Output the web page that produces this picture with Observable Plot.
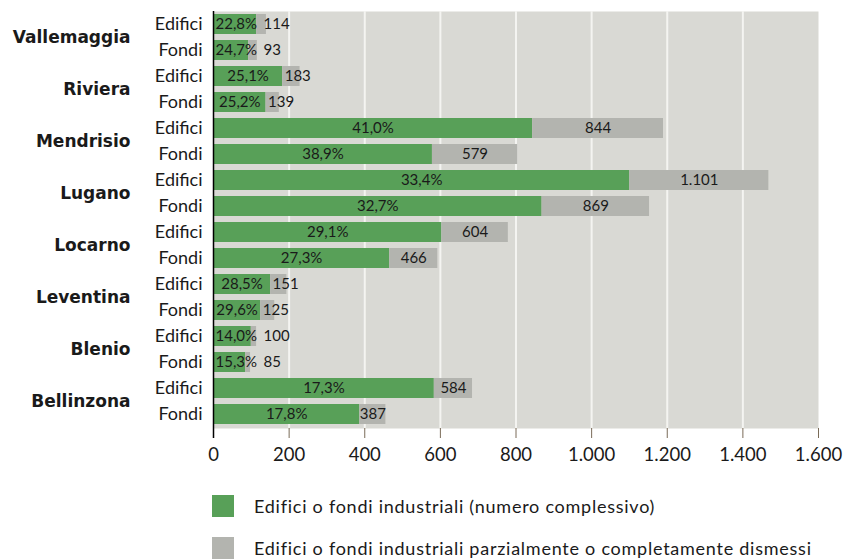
<!DOCTYPE html>
<html>
<head>
<meta charset="utf-8">
<script src="https://cdn.jsdelivr.net/npm/d3@7"></script>
<script src="https://cdn.jsdelivr.net/npm/@observablehq/plot@0.6"></script>
<style>
  html, body { margin: 0; padding: 0; background: #ffffff; }
  body { width: 843px; height: 559px; overflow: hidden; font-family: Lato, "Noto Sans", sans-serif; color: #1a1a1a; }
  #legend { padding-top: 15px; }
  .item { display: flex; align-items: center; height: 22px; margin-bottom: 20px; margin-left: 212px; font-size: 18px; letter-spacing: 0.75px; }
  .sw { width: 22px; height: 22px; margin-right: 20px; flex: none; }
</style>
</head>
<body>
<div id="chart"></div>
<div id="legend"></div>
<script>
// Regions, top to bottom
const regions = ["Vallemaggia", "Riviera", "Mendrisio", "Lugano", "Locarno", "Leventina", "Blenio", "Bellinzona"];
// Industrial buildings: total count and share (%) partially or fully disused
const edificiTotal = [114, 183, 844, 1101, 604, 151, 100, 584];
const edificiPct   = [22.8, 25.1, 41.0, 33.4, 29.1, 28.5, 14.0, 17.3];
// Industrial plots: total count and share (%) partially or fully disused
const fondiTotal = [93, 139, 579, 869, 466, 125, 85, 387];
const fondiPct   = [24.7, 25.2, 38.9, 32.7, 27.3, 29.6, 15.3, 17.8];
const kinds = ["Edifici", "Fondi"];
const xTicks = [0, 200, 400, 600, 800, 1000, 1200, 1400, 1600];
const legendLabels = [
  "Edifici o fondi industriali (numero complessivo)",
  "Edifici o fondi industriali parzialmente o completamente dismessi"
];

const green = "#58a058";
const grey = "#b3b4af";
const panel = "#d9d9d4";

const W = 843, H = 480, mL = 213, mR = 25, mT = 11, mB = 52;
const pxPerUnit = (W - mL - mR) / 1600;

const it = d3.formatLocale({decimal: ",", thousands: ".", grouping: [3], currency: ["", "€"]});
const fmtInt = it.format(",d");
const fmtPct = p => it.format(".1f")(p) + "%";

const rows = [];
regions.forEach((r, i) => {
  [[edificiTotal[i], edificiPct[i]], [fondiTotal[i], fondiPct[i]]].forEach(([total, pct], j) => {
    const dismessi = total * pct / 100;
    rows.push({
      region: r, kind: kinds[j], key: r + "|" + kinds[j],
      total, pct, dismessi,
      pctInside: total * pxPerUnit > 45,
      numInside: dismessi * pxPerUnit > 24
    });
  });
});

const textBase = {y: "key", fontSize: 15, fill: "#1a1a1a", fontFamily: "Lato, sans-serif"};

const chart = Plot.plot({
  width: W, height: H,
  marginLeft: mL, marginRight: mR, marginTop: mT, marginBottom: mB,
  style: {fontFamily: "Lato, sans-serif", background: "white", color: "#1a1a1a"},
  x: {domain: [0, 1600], label: null},
  y: {domain: rows.map(d => d.key), paddingInner: 0.23, paddingOuter: 0.115, label: null},
  marks: [
    Plot.frame({fill: panel, stroke: null}),
    Plot.gridX(xTicks.slice(1, -1), {stroke: "#f4f4f1", strokeOpacity: 1, strokeWidth: 2}),
    Plot.barX(rows, {x1: 0, x2: "total", y: "key", fill: green}),
    Plot.barX(rows, {x1: "total", x2: d => d.total + d.dismessi, y: "key", fill: grey}),
    // percentage labels
    Plot.text(rows.filter(d => d.pctInside), {...textBase, x: d => d.total / 2, text: d => fmtPct(d.pct)}),
    Plot.text(rows.filter(d => !d.pctInside), {...textBase, x: 0, text: d => fmtPct(d.pct), textAnchor: "start", dx: 2}),
    // total count labels
    Plot.text(rows.filter(d => d.numInside), {...textBase, x: d => d.total + d.dismessi / 2, text: d => fmtInt(d.total)}),
    Plot.text(rows.filter(d => !d.numInside && d.pctInside), {...textBase, x: "total", text: d => fmtInt(d.total), textAnchor: "start", dx: 2}),
    Plot.text(rows.filter(d => !d.numInside && !d.pctInside), {...textBase, x: 0, text: d => fmtInt(d.total), textAnchor: "start", dx: 50}),
    // region names between their two rows
    Plot.text(rows.filter(d => d.kind === "Edifici"), {
      y: "key", frameAnchor: "left", text: "region", textAnchor: "end",
      dx: -83, dy: 13, fontSize: 17, fontWeight: "bold", fill: "#1a1a1a",
      fontFamily: "'DejaVu Sans', sans-serif"
    }),
    Plot.axisY({tickSize: 0, tickPadding: 11, fontSize: 18, tickFormat: k => k.split("|")[1], label: null}),
    Plot.axisX({ticks: xTicks, tickSize: 10, tickPadding: 9, fontSize: 18.5, stroke: "#7a6b58", tickFormat: fmtInt, label: null}),
    Plot.ruleX([0], {stroke: "#000", strokeWidth: 1.5, insetBottom: -10})
  ]
});
document.getElementById("chart").appendChild(chart);

const legend = document.getElementById("legend");
[green, grey].forEach((c, i) => {
  const item = document.createElement("div");
  item.className = "item";
  const sw = document.createElement("span");
  sw.className = "sw";
  sw.style.background = c;
  const lab = document.createElement("span");
  lab.textContent = legendLabels[i];
  item.append(sw, lab);
  legend.appendChild(item);
});
</script>
</body>
</html>
